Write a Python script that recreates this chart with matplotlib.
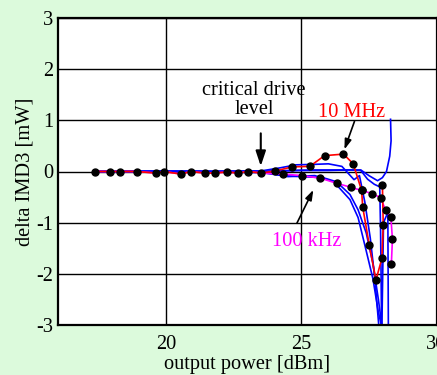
import matplotlib
matplotlib.use("Agg")
import matplotlib.pyplot as plt

plt.rcParams['font.family'] = ['Liberation Serif', 'DejaVu Serif']
plt.rcParams['axes.unicode_minus'] = False

# shared flat-region measurement points
flat_x = [17.38, 17.93, 18.30, 18.91, 19.62, 19.91, 20.54, 20.91, 21.42, 21.81, 22.24, 22.67, 23.04, 23.52]
flat_y = [0.0, 0.0, 0.0, 0.0, -0.03, 0.0, -0.05, 0.0, -0.03, -0.03, -0.01, -0.03, 0.0, -0.03]

# 10 MHz (red) tail
red_x = [24.02, 24.67, 25.31, 25.86, 26.56, 26.92, 27.23, 27.27, 27.51, 27.76, 27.98, 28.03, 28.00]
red_y = [0.01, 0.09, 0.10, 0.31, 0.34, 0.15, -0.37, -0.69, -1.43, -2.12, -1.70, -1.04, -0.27]

# 100 kHz (magenta) tail
mag_x = [24.32, 25.02, 25.70, 26.31, 26.84, 27.23, 27.61, 27.93, 28.12, 28.31, 28.37, 28.33]
mag_y = [-0.05, -0.08, -0.13, -0.23, -0.31, -0.37, -0.43, -0.51, -0.76, -0.88, -1.32, -1.81]

# blue curves (no markers)
blue1_x = [17.4, 20.0, 22.0, 23.5, 24.5, 25.5, 26.5, 27.0, 27.2, 27.5, 27.82, 28.0, 28.15, 28.27, 28.32, 28.30]
blue1_y = [0.0, 0.01, 0.0, 0.0, 0.02, 0.03, 0.03, 0.03, 0.03, -0.08, -0.18, -0.12, 0.0, 0.3, 0.6, 1.02]
blue2_x = [17.4, 21.0, 23.0, 23.5, 24.2, 24.8, 25.5, 26.0, 26.5, 26.95, 27.15, 27.35, 27.55, 27.72, 27.88]
blue2_y = [0.0, 0.0, 0.01, 0.01, 0.07, 0.13, 0.14, 0.15, 0.10, -0.16, -0.08, -0.6, -1.3, -2.1, -3.1]
blue3_x = [17.4, 21.0, 23.5, 25.0, 26.0, 26.8, 27.2, 27.45, 27.7, 27.9, 27.93, 27.95, 27.97]
blue3_y = [0.0, 0.0, 0.0, 0.02, 0.02, 0.03, 0.02, -0.15, -0.25, -0.3, -1.1, -2.0, -3.1]
blue4_x = [17.4, 21.0, 23.0, 23.5, 24.3, 25.0, 25.8, 26.3, 26.8, 27.1, 27.4, 27.65, 27.85, 28.0]
blue4_y = [0.0, 0.0, -0.02, -0.02, -0.08, -0.1, -0.12, -0.2, -0.45, -0.75, -1.2, -1.8, -2.5, -3.1]
blue5_x = [17.4, 21.0, 23.5, 24.5, 25.5, 26.2, 26.8, 27.1, 27.4, 27.65, 27.85, 27.98, 28.04, 28.20, 28.22]
blue5_y = [0.0, 0.0, 0.0, -0.1, -0.08, -0.2, -0.55, -0.9, -1.55, -2.1, -2.75, -3.05, -1.0, -0.8, -3.1]

x_ticks = [20, 25, 30]
y_ticks = [-3, -2, -1, 0, 1, 2, 3]

FS = 14.7
bg = '#dcfadc'

fig = plt.figure(figsize=(4.37, 3.75), dpi=100, facecolor=bg)
ax = fig.add_axes([58 / 437, 1 - 325 / 375, (436.5 - 58) / 437, 307 / 375])
ax.set_facecolor('white')

for bx, by in [(blue1_x, blue1_y), (blue2_x, blue2_y), (blue3_x, blue3_y),
               (blue4_x, blue4_y), (blue5_x, blue5_y)]:
    ax.plot(bx, by, color='#0000ff', lw=1.2, zorder=3)

ax.plot(flat_x + mag_x, flat_y + mag_y, color='#ff00ff', lw=1.2, zorder=4)
ax.plot(flat_x + red_x, flat_y + red_y, color='#ff0000', lw=1.2, zorder=5)
ax.plot(flat_x + red_x, flat_y + red_y, 'o', color='black', ms=5, zorder=6)
ax.plot(mag_x, mag_y, 'o', color='black', ms=5, zorder=6)

ax.set_xlim(16, 30)
ax.set_ylim(-3, 3)
ax.set_xticks(x_ticks)
ax.set_yticks(y_ticks)
ax.set_xticklabels([str(v) for v in x_ticks], fontsize=FS)
ax.set_yticklabels([str(v) for v in y_ticks], fontsize=FS)
ax.tick_params(axis='x', length=0, pad=7)
ax.tick_params(axis='y', length=0, pad=3.5)
ax.grid(True, color='black', lw=1.0, zorder=1)
ax.set_axisbelow(True)
for s in ax.spines.values():
    s.set_linewidth(1.6)
    s.set_zorder(7)

ax.set_xlabel('output power [dBm]', fontsize=FS, labelpad=1)
ax.set_ylabel('delta IMD3 [mW]', fontsize=FS)
ax.yaxis.set_label_coords(-0.061, 0.5)

ax.text(23.25, 1.4, 'critical drive\nlevel', fontsize=FS, ha='center', va='center',
        linespacing=1.0, zorder=8)
ax.annotate('', xy=(23.5, 0.05), xytext=(23.5, 0.8),
            arrowprops=dict(arrowstyle='-|>,head_width=0.3,head_length=0.9', color='black', lw=1.5),
            zorder=8)

ax.text(26.85, 1.16, '10 MHz', color='#ff0000', fontsize=FS, ha='center', va='center', zorder=8)
ax.annotate('', xy=(26.56, 0.38), xytext=(27.0, 1.03),
            arrowprops=dict(arrowstyle='-|>,head_width=0.2,head_length=0.6', color='black', lw=1.2),
            zorder=8)

ax.text(25.21, -1.37, '100 kHz', color='#ff00ff', fontsize=FS, ha='center', va='center', zorder=8)
ax.annotate('', xy=(25.49, -0.31), xytext=(24.79, -1.06),
            arrowprops=dict(arrowstyle='-|>,head_width=0.2,head_length=0.6', color='black', lw=1.2),
            zorder=8)

fig.savefig('out.png', dpi=100, facecolor=bg)
